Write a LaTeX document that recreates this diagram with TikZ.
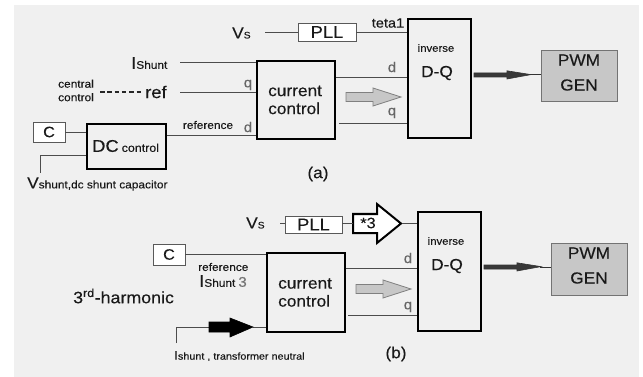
\documentclass[tikz,border=0pt]{standalone}
\usepackage{fontspec}
\setmainfont{Liberation Sans}[FakeStretch=1.08,FakeBold=0.2]
\begin{document}
\begin{tikzpicture}[x=1pt,y=-1pt,
  tbox/.style={draw=black, line width=1.9pt, inner sep=0pt},
  sbox/.style={draw=black!65, line width=0.8pt, inner sep=0pt, fill=white},
  pwmbox/.style={draw=black!55, line width=1pt, inner sep=0pt, fill=black!22},
  wire/.style={draw=black!70, line width=0.9pt},
  txt/.style={inner sep=0pt, text=black!90},
  fa/.style={font=\fontsize{17}{19}\selectfont},
  fb/.style={font=\fontsize{16}{18}\selectfont},
  fc/.style={font=\fontsize{11}{13.5}\selectfont},
  dqlbl/.style={inner sep=0pt, text=black!60, font=\fontsize{14}{16}\selectfont},
  grayarrow/.style={draw=black!50, line width=0.8pt, fill=black!22},
  darkarrow/.style={draw=black!80, fill=black!78, line width=0.6pt}
]
\useasboundingbox (0,0) rectangle (643,377);
\fill[white] (0,0) rectangle (643,377);
\fill[black!6] (14,5) rectangle (639,377);

% ---------------- (a) ----------------
\node[tbox, minimum width=78pt, minimum height=78pt] (cca) at (296,100) {};
\node[tbox, minimum width=63pt, minimum height=119pt] (dqa) at (439.5,78.5) {};
\node[pwmbox, minimum width=76pt, minimum height=51pt] (pwma) at (579,76.5) {};
\node[sbox, minimum width=58pt, minimum height=18pt] (plla) at (327,32) {};
\node[sbox, minimum width=32pt, minimum height=20pt] (ca) at (49,132) {};
\node[tbox, minimum width=79pt, minimum height=45pt] (dca) at (126.5,146.5) {};

\node[txt, font=\fontsize{17}{19}\selectfont] (plltxta) at (327,32) {PLL};
\node[txt, font=\fontsize{15}{17}\selectfont] (ctxta) at (49,132) {C};
\node[txt, anchor=west, fb, align=left] (cctxta) at (268,100) {current\\control};
\node[txt, font=\fontsize{10.5}{12}\selectfont] (inva) at (436,48) {inverse};
\node[txt, fb] (dqtxta) at (437,73) {D-Q};
\node[txt, fb] (pwmtxta) at (579,60) {PWM};
\node[txt, fb] (gentxta) at (579,85) {GEN};
\node[txt, anchor=west] (dctxta) at (92,146) {{\fontsize{17}{19}\selectfont DC} {\fontsize{11.5}{13}\selectfont control}};

\node[txt, anchor=west] (vsa) at (232,33) {{\fontsize{16}{18}\selectfont V}{\fontsize{9.5}{11}\selectfont S}};
\node[txt, font=\fontsize{13.5}{15}\selectfont] (tetaa) at (388,23) {teta1};
\node[txt, anchor=west] (isha) at (131,63) {{\fontsize{17}{19}\selectfont I}{\fontsize{11}{13}\selectfont Shunt}};
\node[txt, fc, align=center] (centa) at (76,90.5) {central\\control};
\node[txt, anchor=west, fa] (refa) at (145,92) {ref};
\node[txt, fc] (refla) at (208,125) {reference};
\node[dqlbl] (qla) at (248,85) {q};
\node[dqlbl] (dla) at (248,127) {d};
\node[dqlbl] (dra) at (392,67) {d};
\node[dqlbl] (qra) at (392,113) {q};
\node[txt, anchor=west] (vsdca) at (27,184) {{\fontsize{16}{18}\selectfont V}{\fontsize{11}{13}\selectfont shunt,dc shunt capacitor}};
\node[txt, fb] (laba) at (318,174) {(a)};

\coordinate (vsaend) at (265,32);
\draw[wire] (vsaend) -- (plla.west);
\draw[wire] (plla.east) -- (plla.east -| dqa.west);
\coordinate (ishaend) at (180,62);
\draw[wire] (ishaend) -- (ishaend -| cca.west);
\coordinate (dashs) at (100,92);
\draw[black!85, line width=1.8pt, dash pattern=on 4.5pt off 2.8pt] (dashs) -- ([xshift=-3pt]refa.west);
\coordinate (refaend) at (180,92);
\draw[wire] (refaend) -- (refaend -| cca.west);
\coordinate (dcout) at ([yshift=11.5pt]dca.east);
\draw[wire] (dcout) -- (dcout -| cca.west);
\draw[wire] (ca.east) -- (ca.east -| dca.west);
\coordinate (dcin) at ([yshift=-8.5pt]dca.west);
\coordinate (vsdcend) at (40,173);
\draw[wire] (dcin) -| (vsdcend);
\coordinate (ccado) at ([yshift=23pt]cca.east);
\draw[wire] (ccado) -- (ccado -| dqa.west);
\coordinate (ccaqo) at ([yshift=-23pt,xshift=3pt]cca.east);
\draw[wire] (ccaqo) -- (ccaqo -| dqa.west);

\draw[grayarrow] (346,92.5) -- (373,92.5) -- (373,88) -- (401,97) -- (373,106) -- (373,101.5) -- (346,101.5) -- cycle;
\draw[darkarrow] (474,73) -- (507,73) -- (507,70.8) -- (531,74.6) -- (507,79) -- (507,77) -- (474,77) -- cycle;
\draw[black!80, line width=1pt] (530,75) -- (pwma.west |- 530,75);

% ---------------- (b) ----------------
\node[tbox, minimum width=78pt, minimum height=79pt] (ccb) at (306,292.5) {};
\node[tbox, minimum width=63pt, minimum height=119pt] (dqb) at (449.5,271.5) {};
\node[pwmbox, minimum width=76pt, minimum height=52pt] (pwmb) at (589,269) {};
\node[sbox, minimum width=57pt, minimum height=17pt] (pllb) at (313.5,224.5) {};
\node[sbox, minimum width=32pt, minimum height=21pt] (cb) at (169,254.5) {};

\node[txt, font=\fontsize{17}{19}\selectfont] (plltxtb) at (313.5,224.5) {PLL};
\node[txt, font=\fontsize{15}{17}\selectfont] (ctxtb) at (169,254.5) {C};
\node[txt, anchor=west, fb, align=left] (cctxtb) at (278,292.5) {current\\control};
\node[txt, font=\fontsize{10.5}{12}\selectfont] (invb) at (446,241) {inverse};
\node[txt, fb] (dqtxtb) at (447,266) {D-Q};
\node[txt, fb] (pwmtxtb) at (589,253) {PWM};
\node[txt, fb] (gentxtb) at (589,278) {GEN};

\node[txt, anchor=west] (vsb) at (246,223) {{\fontsize{16}{18}\selectfont V}{\fontsize{9.5}{11}\selectfont S}};
\draw[black, line width=2pt, fill=white, line join=miter] (353,214) -- (377,214) -- (377,204) -- (401,223.5) -- (377,243) -- (377,233) -- (353,233) -- cycle;
\node[txt, font=\fontsize{15}{17}\selectfont] (star3) at (368,223) {*3};
\node[txt, fc, anchor=west] (reflb) at (198,267) {reference};
\node[txt, anchor=west] (ishb) at (199,281) {{\fontsize{17}{19}\selectfont I}{\fontsize{11}{13}\selectfont Shunt} {\fontsize{14}{16}\selectfont\color{black!55}3}};
\node[txt, anchor=west] (harm) at (73,296) {{\fontsize{16.5}{18}\selectfont 3\textsuperscript{rd}-harmonic}};
\node[txt, anchor=west] (ishnb) at (174,356) {{\fontsize{12.5}{14}\selectfont I}{\fontsize{10}{12}\selectfont shunt , transformer neutral}};
\node[dqlbl] (drb) at (408,258) {d};
\node[dqlbl] (qrb) at (408,307) {q};
\node[txt, fb] (labb) at (396,354) {(b)};

\coordinate (vsbend) at (280,223);
\draw[wire] (vsbend) -- (vsbend -| pllb.west);
\coordinate (s3l) at (353,223.5);
\coordinate (s3r) at (402,223.5);
\draw[wire] (pllb.east |- s3l) -- (s3l);
\draw[wire] (s3r) -- (s3r -| dqb.west);
\draw[wire] (cb.east) -- (cb.east -| ccb.west);
\coordinate (ccbdo) at ([yshift=24.5pt]ccb.east);
\draw[wire] (ccbdo) -- (ccbdo -| dqb.west);
\coordinate (ccbqo) at ([yshift=-22.5pt,xshift=2pt]ccb.east);
\draw[wire] (ccbqo) -- (ccbqo -| dqb.west);

\coordinate (ishbend) at (176,343);
\coordinate (barl) at (209,327);
\coordinate (barr) at (253,327);
\draw[wire] (ishbend) |- (barl);
\draw[wire] (barr) -- (barr -| ccb.west);
\draw[black, fill=black, line width=0.6pt] (209,322) -- (230,322) -- (230,318) -- (253,327) -- (230,337) -- (230,332) -- (209,332) -- cycle;

\draw[grayarrow] (356,284.5) -- (383,284.5) -- (383,280) -- (411,289) -- (383,298) -- (383,293.5) -- (356,293.5) -- cycle;
\draw[darkarrow] (484,265) -- (517,265) -- (517,262.8) -- (541,266.6) -- (517,271) -- (517,269) -- (484,269) -- cycle;
\draw[black!80, line width=1pt] (540,267) -- (pwmb.west |- 540,267);
\end{tikzpicture}
\end{document}
